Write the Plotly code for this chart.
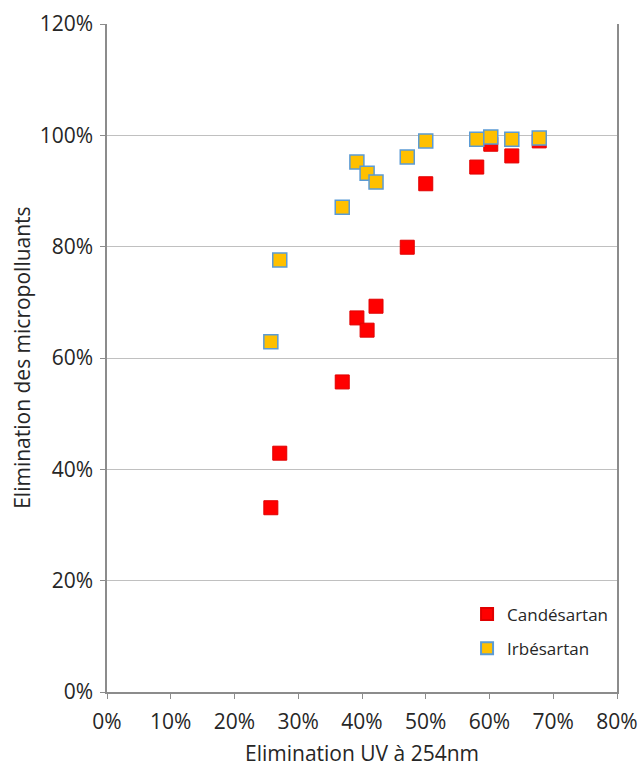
import plotly.graph_objects as go

uv_elim = [25.7, 27.1, 36.9, 39.2, 40.8, 42.2, 47.1, 50.0, 58.0, 60.2, 63.5, 67.8]
candesartan = [33.1, 42.9, 55.7, 67.2, 65.0, 69.3, 79.9, 91.3, 94.3, 98.4, 96.3, 99.0]
irbesartan = [62.9, 77.6, 87.1, 95.2, 93.2, 91.6, 96.1, 99.0, 99.3, 99.7, 99.3, 99.5]

x_ticks = [0, 10, 20, 30, 40, 50, 60, 70, 80]
y_ticks = [0, 20, 40, 60, 80, 100, 120]

x_title = "Elimination UV à 254nm"
y_title = "Elimination des micropolluants"

font = "'Open Sans', 'Noto Sans', sans-serif"

fig = go.Figure()
fig.add_trace(go.Scatter(
    x=uv_elim, y=candesartan, mode="markers", name="Candésartan", legendgroup="c",
    marker=dict(symbol="square", size=14, color="#FF0000",
                line=dict(color="#E00000", width=1)),
))
fig.add_trace(go.Scatter(
    x=uv_elim, y=irbesartan, mode="markers", name="Irbésartan", legendgroup="i",
    marker=dict(symbol="square", size=14, color="#FFC000",
                line=dict(color="#5B9BD5", width=1.5)),
))

fig.update_layout(
    width=640, height=767,
    margin=dict(l=107, r=23, t=24, b=75),
    paper_bgcolor="white", plot_bgcolor="white",
    font=dict(family=font, size=21, color="#262626"),
    showlegend=True,
    legend=dict(x=0.706, y=0.143, xanchor="left", yanchor="top",
                bgcolor="rgba(0,0,0,0)", font=dict(size=17), itemsizing="constant",
                tracegroupgap=9),
    xaxis=dict(
        range=[0, 80], tickvals=x_ticks, ticktext=[f"{v}%" for v in x_ticks],
        showgrid=False, zeroline=False, automargin=False,
        showline=True, linecolor="#8c8c8c", linewidth=1.5, mirror=False,
        ticks="outside", ticklen=5, tickcolor="#8c8c8c", ticklabelstandoff=5,
    ),
    yaxis=dict(
        range=[0, 120], tickvals=y_ticks, ticktext=[f"{v}%" for v in y_ticks],
        showgrid=True, gridcolor="#C0C0C0", gridwidth=1.2, zeroline=False, automargin=False,
        showline=True, linecolor="#8c8c8c", linewidth=1.5, mirror=True,
        ticks="outside", ticklen=5, tickcolor="#8c8c8c", ticklabelstandoff=3,
    ),
    annotations=[
        dict(text=x_title, xref="paper", yref="paper", x=0.5, y=-0.091,
             xanchor="center", yanchor="middle", showarrow=False, font=dict(size=21)),
        dict(text=y_title, xref="paper", yref="paper", x=-0.167, y=0.5,
             xanchor="center", yanchor="middle", showarrow=False, textangle=-90,
             font=dict(size=21)),
    ],
)

fig.write_html("out.html", config={"displayModeBar": False},
               post_script="document.body.style.margin='0';document.body.style.padding='0';")
